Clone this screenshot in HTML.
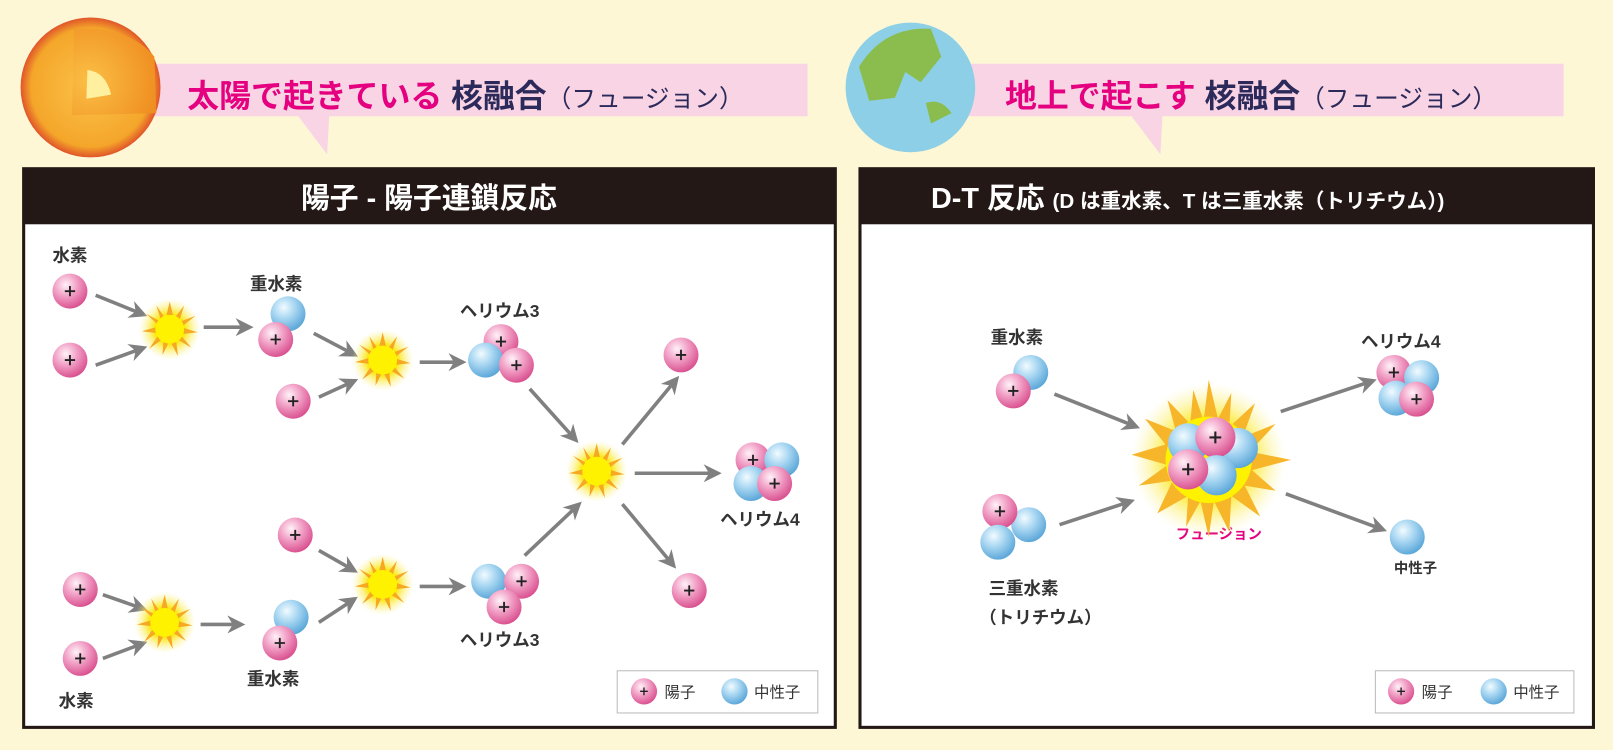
<!DOCTYPE html>
<html><head><meta charset="utf-8"><style>
html,body{margin:0;padding:0;background:#fdf7d6;}
svg{display:block;}
text{font-family:"Liberation Sans","Noto Sans CJK JP",sans-serif;}
</style></head><body>
<svg width="1613" height="750" viewBox="0 0 1568 729" preserveAspectRatio="none" xmlns="http://www.w3.org/2000/svg">
<defs>
<radialGradient id="pg" cx="0.38" cy="0.32" r="0.7"><stop offset="0" stop-color="#fff2f8"/><stop offset="0.45" stop-color="#f2a3c8"/><stop offset="1" stop-color="#d9508f"/></radialGradient>
<radialGradient id="ng" cx="0.38" cy="0.32" r="0.7"><stop offset="0" stop-color="#f2fbff"/><stop offset="0.45" stop-color="#a9d7f2"/><stop offset="1" stop-color="#5aa6d8"/></radialGradient>
<radialGradient id="sg" cx="0.5" cy="0.5" r="0.5"><stop offset="0" stop-color="#fff200"/><stop offset="0.5" stop-color="#fbe81a"/><stop offset="1" stop-color="#fdf3a0" stop-opacity="0"/></radialGradient>
<radialGradient id="sun" cx="0.5" cy="0.5" r="0.5"><stop offset="0" stop-color="#fcc24a"/><stop offset="0.85" stop-color="#f4a62a"/><stop offset="1" stop-color="#e0552a"/></radialGradient>
<radialGradient id="core" cx="0.2" cy="0.6" r="0.9"><stop offset="0" stop-color="#fbbf45"/><stop offset="1" stop-color="#ee8a1e"/></radialGradient>
<marker id="ar" viewBox="0 0 10 10" refX="8" refY="5" markerWidth="5" markerHeight="5" orient="auto"><path d="M0,0 L10,5 L0,10 L3,5 Z" fill="#808080"/></marker>
<g id="P"><circle r="17" fill="url(#pg)"/><path d="M-5,0H5M0,-5V5" stroke="#222" stroke-width="1.8"/></g>
<g id="N"><circle r="17" fill="url(#ng)"/></g>
<g id="S"><circle r="30" fill="url(#sg)"/><polygon fill="#f7a823" points="0,-27 4,-10 14,-23 9,-7 25,-13 11,-2 27,3 10,5 21,18 6,9 8,26 0,11 -7,25 -6,9 -20,19 -10,4 -27,2 -10,-3 -23,-15 -8,-7 -13,-23 -4,-10"/><circle r="14" fill="#fff200"/></g>
</defs>
<rect width="1568" height="729" fill="#fdf7d6"/>
<!-- left banner -->
<polygon points="150,62 785,62 785,113 320,113 318,150 290,113 150,113" fill="#f8d4e5"/>
<circle cx="88" cy="85" r="68" fill="url(#sun)"/>
<path d="M72,28 Q125,25 150,55 L152,110 L70,112 Z" fill="url(#core)"/>
<path d="M85,68 Q103,70 108,92 L84,96 Z" fill="#fff0a0"/>
<text x="182" y="104" font-size="31" font-weight="bold" fill="#e4007f">太陽で起きている <tspan fill="#2b2a5a">核融合</tspan><tspan fill="#2b2a5a" font-size="24" font-weight="normal">（フュージョン）</tspan></text>
<!-- right banner -->
<polygon points="935,62 1520,62 1520,113 1130,113 1128,150 1100,113 935,113" fill="#f8d4e5"/>
<circle cx="885" cy="85" r="63" fill="#8ccfe6"/>
<path d="M835,65 Q860,25 905,28 L915,55 L895,80 L880,70 L870,95 L845,98 Z" fill="#8bbd4e"/>
<path d="M900,100 Q915,95 925,110 L905,120 Z" fill="#8bbd4e"/>
<text x="977" y="104" font-size="31" font-weight="bold" fill="#e4007f">地上で起こす <tspan fill="#2b2a5a">核融合</tspan><tspan fill="#2b2a5a" font-size="24" font-weight="normal">（フュージョン）</tspan></text>
<!-- panels -->
<rect x="23" y="164" width="789" height="543" fill="#fff" stroke="#231815" stroke-width="3"/>
<rect x="22" y="163" width="791" height="55" fill="#231815"/>
<text x="417" y="202" font-size="28" font-weight="bold" fill="#fff" text-anchor="middle">陽子 - 陽子連鎖反応</text>
<rect x="836" y="164" width="713" height="543" fill="#fff" stroke="#231815" stroke-width="3"/>
<rect x="835" y="163" width="715" height="55" fill="#231815"/>
<text x="905" y="202" font-size="28" font-weight="bold" fill="#fff">D-T 反応 <tspan font-size="20">(D は重水素、T は三重水素（トリチウム）)</tspan></text>
<!-- left content -->
<g font-size="17" fill="#333" font-weight="bold">
<text x="51" y="254">水素</text><text x="243" y="282">重水素</text><text x="447" y="308">ヘリウム3</text>
<text x="700" y="511">ヘリウム4</text><text x="447" y="628">ヘリウム3</text><text x="57" y="687">水素</text><text x="240" y="666">重水素</text>
</g>
<g stroke="#808080" stroke-width="3.5" marker-end="url(#ar)" fill="none">
<line x1="93" y1="287" x2="140" y2="306"/><line x1="93" y1="355" x2="140" y2="338"/>
<line x1="198" y1="318" x2="243" y2="318"/>
<line x1="305" y1="324" x2="345" y2="345"/><line x1="310" y1="386" x2="345" y2="370"/>
<line x1="408" y1="352" x2="450" y2="352"/>
<line x1="515" y1="378" x2="560" y2="428"/>
<line x1="605" y1="432" x2="658" y2="368"/><line x1="617" y1="460" x2="698" y2="460"/><line x1="605" y1="490" x2="655" y2="550"/>
<line x1="510" y1="540" x2="563" y2="490"/>
<line x1="310" y1="535" x2="345" y2="555"/><line x1="408" y1="570" x2="450" y2="570"/>
<line x1="100" y1="578" x2="140" y2="592"/><line x1="100" y1="640" x2="140" y2="625"/>
<line x1="195" y1="607" x2="235" y2="607"/><line x1="310" y1="605" x2="345" y2="582"/>
</g>
<use href="#P" x="68" y="283"/><use href="#P" x="68" y="350"/><use href="#S" x="165" y="320"/>
<use href="#N" x="280" y="305"/><use href="#P" x="268" y="330"/>
<use href="#P" x="285" y="390"/><use href="#S" x="372" y="350"/>
<use href="#P" x="487" y="332"/><use href="#N" x="472" y="350"/><use href="#P" x="502" y="355"/>
<use href="#S" x="580" y="458"/><use href="#P" x="662" y="345"/><use href="#P" x="670" y="574"/>
<use href="#P" x="732" y="447"/><use href="#N" x="760" y="447"/><use href="#N" x="730" y="470"/><use href="#P" x="753" y="470"/>
<use href="#P" x="287" y="520"/><use href="#S" x="372" y="568"/>
<use href="#N" x="475" y="565"/><use href="#P" x="507" y="565"/><use href="#P" x="490" y="590"/>
<use href="#P" x="78" y="573"/><use href="#P" x="78" y="640"/><use href="#S" x="160" y="605"/>
<use href="#N" x="283" y="600"/><use href="#P" x="272" y="625"/>
<rect x="600" y="652" width="195" height="41" fill="#fff" stroke="#bbb"/>
<g transform="translate(626,672) scale(0.75)"><use href="#P"/></g><text x="646" y="678" font-size="15" fill="#333">陽子</text>
<g transform="translate(714,672) scale(0.75)"><use href="#N"/></g><text x="733" y="678" font-size="15" fill="#333">中性子</text>
<!-- right content -->
<g font-size="17" fill="#333" font-weight="bold">
<text x="963" y="334">重水素</text><text x="1323" y="338">ヘリウム4</text>
<text x="961" y="578">三重水素</text><text x="952" y="606">（トリチウム）</text>
<text x="1355" y="557" font-size="14">中性子</text>
</g>
<text x="1143" y="524" font-size="14" font-weight="bold" fill="#e4007f">フュージョン</text>
<g stroke="#808080" stroke-width="3.5" marker-end="url(#ar)">
<line x1="1025" y1="383" x2="1105" y2="415"/><line x1="1030" y1="510" x2="1100" y2="487"/>
<line x1="1245" y1="400" x2="1335" y2="370"/><line x1="1250" y1="480" x2="1345" y2="515"/>
</g>
<g transform="translate(1175,447)">
<circle r="75" fill="url(#sg)"/>
<polygon fill="#f7b52a" points="0,-78 9,-40 22,-65 20,-32 45,-55 33,-22 65,-35 40,-8 80,0 42,10 65,30 35,25 50,55 22,35 20,70 5,40 0,75 -8,40 -22,65 -20,35 -50,52 -35,20 -68,25 -40,5 -75,-5 -42,-15 -62,-40 -32,-28 -40,-58 -18,-35 -15,-68 -5,-38"/>
<circle r="42" fill="#fff200"/>
</g>
<g transform="translate(1178,447) scale(1.15) translate(-1178,-447)">
<use href="#N" x="1158" y="433"/><use href="#N" x="1200" y="437"/><use href="#P" x="1181" y="428"/><use href="#N" x="1182" y="460"/><use href="#P" x="1158" y="455"/>
</g>
<use href="#N" x="1002" y="362"/><use href="#P" x="985" y="380"/>
<use href="#N" x="1000" y="510"/><use href="#P" x="972" y="497"/><use href="#N" x="970" y="527"/>
<use href="#P" x="1355" y="362"/><use href="#N" x="1382" y="367"/><use href="#N" x="1357" y="387"/><use href="#P" x="1377" y="388"/>
<use href="#N" x="1368" y="522"/>
<rect x="1337" y="652" width="193" height="41" fill="#fff" stroke="#bbb"/>
<g transform="translate(1362,672) scale(0.75)"><use href="#P"/></g><text x="1382" y="678" font-size="15" fill="#333">陽子</text>
<g transform="translate(1452,672) scale(0.75)"><use href="#N"/></g><text x="1471" y="678" font-size="15" fill="#333">中性子</text>
</svg>
</body></html>
